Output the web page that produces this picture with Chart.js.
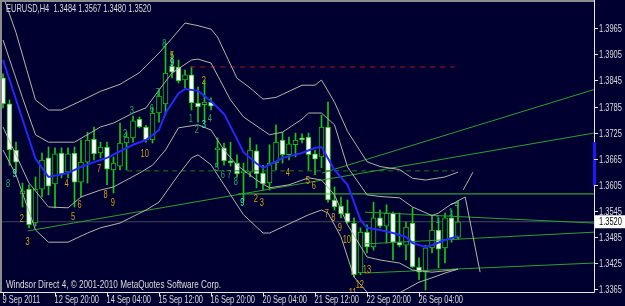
<!DOCTYPE html>
<html>
<head>
<meta charset="utf-8">
<script src="https://cdn.jsdelivr.net/npm/chart.js@4.4.0/dist/chart.umd.min.js"></script>
<style>
  html, body { margin: 0; padding: 0; background: #000030; }
  #wrap { width: 625px; height: 306px; }
</style>
</head>
<body>
<div id="wrap"><canvas id="chart"></canvas></div>
<script>
// EURUSD H4 bars (index 0 = 9 Sep 2011 12:00)
const opens = [1.3851,1.3791,1.3685,1.3584,1.3595,1.3517,1.3595,1.3667,1.3607,1.3678,
  1.3634,1.3678,1.3611,1.3657,1.3710,1.3678,1.3692,1.3639,1.3648,1.3701,
  1.3713,1.3756,1.3738,1.3708,1.3770,1.3791,1.3878,1.3876,1.3846,1.3858,
  1.3793,1.3789,1.3795,1.3685,1.3690,1.3660,1.3655,1.3632,1.3634,1.3683,
  1.3632,1.3609,1.3655,1.3708,1.3674,1.3697,1.3713,1.3715,1.3676,1.3669,
  1.3738,1.3570,1.3556,1.3540,1.3517,1.3402,1.3496,1.3462,1.3529,1.3510,
  1.3540,1.3473,1.3466,1.3517,1.3416,1.3404,1.3460,1.3501,1.3460,1.3529,
  1.3484];
const highs = [1.3860,1.3800,1.3703,1.3609,1.3605,1.3623,1.3678,1.3692,1.3690,1.3690,
  1.3690,1.3692,1.3708,1.3726,1.3738,1.3703,1.3703,1.3669,1.3747,1.3726,
  1.3763,1.3761,1.3742,1.3784,1.3823,1.3931,1.3910,1.3892,1.3869,1.3876,
  1.3830,1.3846,1.3805,1.3713,1.3701,1.3703,1.3674,1.3655,1.3713,1.3697,
  1.3650,1.3697,1.3743,1.3726,1.3715,1.3724,1.3722,1.3724,1.3685,1.3765,
  1.3795,1.3600,1.3577,1.3570,1.3529,1.3506,1.3513,1.3565,1.3547,1.3559,
  1.3542,1.3540,1.3519,1.3552,1.3437,1.3466,1.3536,1.3529,1.3540,1.3547,
  1.3567];
const lows = [1.3782,1.3650,1.3634,1.3554,1.3506,1.3510,1.3577,1.3582,1.3552,1.3621,
  1.3621,1.3554,1.3577,1.3609,1.3662,1.3667,1.3605,1.3586,1.3639,1.3639,
  1.3703,1.3736,1.3703,1.3701,1.3749,1.3765,1.3851,1.3839,1.3828,1.3777,
  1.3749,1.3749,1.3777,1.3646,1.3650,1.3648,1.3623,1.3568,1.3623,1.3598,
  1.3593,1.3593,1.3639,1.3655,1.3662,1.3669,1.3701,1.3639,1.3628,1.3644,
  1.3565,1.3547,1.3529,1.3517,1.3393,1.3398,1.3448,1.3455,1.3506,1.3471,
  1.3432,1.3462,1.3432,1.3414,1.3386,1.3363,1.3448,1.3414,1.3425,1.3473,
  1.3480];
const closes = [1.3791,1.3685,1.3657,1.3591,1.3513,1.3595,1.3662,1.3602,1.3676,1.3630,
  1.3676,1.3611,1.3657,1.3708,1.3676,1.3692,1.3641,1.3655,1.3701,1.3715,
  1.3752,1.3738,1.3708,1.3770,1.3809,1.3862,1.3864,1.3844,1.3858,1.3793,
  1.3784,1.3795,1.3786,1.3690,1.3660,1.3655,1.3630,1.3637,1.3685,1.3630,
  1.3607,1.3655,1.3703,1.3674,1.3699,1.3708,1.3708,1.3674,1.3664,1.3738,
  1.3570,1.3554,1.3538,1.3519,1.3398,1.3496,1.3462,1.3529,1.3510,1.3540,
  1.3473,1.3466,1.3508,1.3416,1.3404,1.3460,1.3501,1.3457,1.3529,1.3480,
  1.3520];

// envelope bands and moving average, read at bar positions
const upperOuterBars = [0,2,5,7,9,12,15,18,21,24,26,28,30,32,33,36,38,40,42,46,48,49,51,53,56,58,61,63,65,68,70];
const upperOuterVals = [1.4040,1.3955,1.3800,1.3777,1.3777,1.3798,1.3820,1.3836,1.3863,1.3908,1.3942,1.3977,1.3971,1.3963,1.3945,1.3850,1.3828,1.3802,1.3806,1.3834,1.3834,1.3846,1.3795,1.3728,1.3658,1.3647,1.3640,1.3620,1.3616,1.3623,1.3634];
const upperInnerBars = [0,3,5,7,11,15,17,20,22,24,26,29,30,32,35,37,41,43,46,47,49,51,53,56,58,61,63,66,67,69,70];
const upperInnerVals = [1.3938,1.3805,1.3720,1.3703,1.3703,1.3738,1.3747,1.3770,1.3782,1.3823,1.3862,1.3892,1.3894,1.3885,1.3800,1.3761,1.3720,1.3726,1.3756,1.3770,1.3770,1.3743,1.3646,1.3582,1.3578,1.3575,1.3554,1.3534,1.3540,1.3561,1.3565];
const maBars = [0,5,7,10,12,14,16,20,22,24,25,27,28,30,32,34,36,37,39,40,41,43,46,48,49,51,53,54,55,56,58,60,62,63,65,66,68,70];
const maVals = [1.3892,1.3665,1.3623,1.3632,1.3646,1.3657,1.3667,1.3697,1.3708,1.3731,1.3770,1.3815,1.3825,1.3821,1.3797,1.3768,1.3710,1.3680,1.3654,1.3644,1.3651,1.3667,1.3678,1.3690,1.3692,1.3639,1.3605,1.3565,1.3524,1.3506,1.3501,1.3494,1.3485,1.3471,1.3462,1.3466,1.3478,1.3487];
const lowerInnerBars = [0,4,7,10,12,15,17,21,23,25,27,30,32,34,36,39,41,44,47,49,51,53,56,58,61,63,66,68,70];
const lowerInnerVals = [1.3738,1.3609,1.3554,1.3552,1.3577,1.3593,1.3600,1.3632,1.3650,1.3685,1.3736,1.3743,1.3731,1.3685,1.3650,1.3616,1.3598,1.3605,1.3621,1.3616,1.3582,1.3513,1.3439,1.3432,1.3425,1.3409,1.3404,1.3407,1.3411];
const lowerOuterBars = [0,2,5,7,10,13,15,18,22,24,27,29,30,32,35,37,40,41,43,46,47,49,50,52,54,56,59,64,66,68,70];
const lowerOuterVals = [1.3685,1.3628,1.3501,1.3473,1.3473,1.3494,1.3506,1.3517,1.3547,1.3565,1.3628,1.3667,1.3674,1.3651,1.3582,1.3536,1.3494,1.3494,1.3508,1.3529,1.3536,1.3547,1.3540,1.3485,1.3393,1.3358,1.3340,1.3381,1.3391,1.3402,1.3411];

// projection strokes to the right of the last bar
const projABars = [68.9, 71.1, 73.4];
const projAVals = [1.3559, 1.3577, 1.3404];
const projBBars = [70.8, 72.3];
const projBVals = [1.3593, 1.3634];

// drawn objects: [startBar, startPrice, endBar, endPrice]
const trendA = [49.1, 1.3632, 90.92, 1.3824];
const trendB = [3.85, 1.3499, 90.92, 1.3724];
const triTop = [55.7, 1.3542, 90.92, 1.3517];
const triMid = [55.7, 1.3469, 90.92, 1.3496];
const triLow = [55.7, 1.3402, 90.92, 1.3425];
const levelGreen = [36.2, 1.3584, 90.92, 1.3584];
const levelRed = [28.8, 1.3876, 69.5, 1.3876];
const levelDkGreen = [19.1, 1.3637, 69.5, 1.3637];
const bidPrice = 1.3520;
const axisMark = [1.3602, 1.3703];

// wave count labels
const labelTexts  = ['2','3','4','5','6','7','8','9','10','5','2','2','3','4','5','6','7','8','9','10','11','12','13',
  '8','2','3','6','7','8','1','2','4','5','6','7','8','1','1','4',
  '9','9','3','9'];
const labelBars   = [2.9,3.8,9.8,10.8,11.8,14.8,15.8,16.9,21.8,26,30.9,38.9,39.8,43.8,46.9,47.8,49.8,50.8,51.8,52.9,53.8,54.9,56,
  0.8,18.8,19.8,22.9,23.8,24.8,28.9,29.8,31.8,32.9,33.8,34.8,35.8,66.9,68.9,69.8,
  1.8,26,30.9,36.8];
const labelPrices = [1.3526,1.3473,1.3607,1.3531,1.3558,1.3641,1.3582,1.3563,1.3676,1.3901,1.3844,1.3572,1.3563,1.3632,1.3614,1.3602,1.3538,1.3529,1.3506,1.3478,1.3356,1.3375,1.3409,
  1.3607,1.3722,1.3775,1.3779,1.3816,1.3929,1.3756,1.3731,1.3756,1.3644,1.3628,1.3628,1.3611,1.3524,1.3540,1.3559,
  1.3630,1.3885,1.3743,1.3563];
const labelKinds  = ['o','o','o','o','o','o','o','o','o','o','o','o','o','o','o','o','o','o','o','o','o','o','o',
  'g','g','g','g','g','g','g','g','g','g','g','g','g','g','g','g',
  'c','c','c','c'];

// axis ticks
const yTicks = [1.3365,1.3425,1.3485,1.3545,1.3605,1.3665,1.3725,1.3785,1.3845,1.3905,1.3965];
const xTickBars = [0,8,16,24,32,40,48,56,64];
const xTickLabels = ['9 Sep 2011','12 Sep 20:00','14 Sep 04:00','15 Sep 12:00','16 Sep 20:00','20 Sep 04:00','21 Sep 12:00','22 Sep 20:00','26 Sep 04:00'];

const BG = '#000030';
const CANDLE = '#14c814';
const BAND = '#b4b4a4';
const TEXT = '#dcdcdc';
const SQUEEZE = 0.68;
const FONT = '"Liberation Sans", Arial, sans-serif';

const pts = (bars, vals) => bars.map((b, i) => ({x: b, y: vals[i]}));
const seg = s => [{x: s[0], y: s[1]}, {x: s[2], y: s[3]}];
const lineSet = (data, color, extra) => Object.assign({
  type: 'line', data, borderColor: color, borderWidth: 1, pointRadius: 0,
  tension: 0, fill: false
}, extra || {});

const idx = opens.map((_, i) => i);

function txt(c, s, x, y, size, color, align, base, squeeze) {
  c.font = size + 'px ' + FONT;
  c.fillStyle = color;
  c.textAlign = align || 'left';
  c.textBaseline = base || 'alphabetic';
  c.fillText(s, x, y, c.measureText(s).width * (squeeze || SQUEEZE));
}

const mtPlugin = {
  id: 'mt',
  beforeDraw(chart) {
    const c = chart.ctx;
    c.save();
    c.fillStyle = BG;
    c.fillRect(0, 0, chart.width, chart.height);
    c.restore();
  },
  afterDatasetsDraw(chart) {
    const c = chart.ctx, xs = chart.scales.x, ys = chart.scales.y, a = chart.chartArea;
    const col = {o: '#d4a00c', g: '#1eb464', c: '#46ffb4'};
    c.save();
    c.beginPath();
    c.rect(a.left, a.top, a.right - a.left, a.bottom - a.top);
    c.clip();
    labelTexts.forEach((t, i) => {
      txt(c, t, xs.getPixelForValue(labelBars[i]), ys.getPixelForValue(labelPrices[i]),
        11, col[labelKinds[i]], 'center', 'middle');
    });
    c.restore();
  },
  afterDraw(chart) {
    const c = chart.ctx, xs = chart.scales.x, ys = chart.scales.y, a = chart.chartArea;
    c.save();
    // frame
    c.strokeStyle = '#8c8c8c';
    c.lineWidth = 2;
    c.beginPath();
    c.moveTo(0, 1); c.lineTo(a.right, 1);
    c.moveTo(1, 0); c.lineTo(1, a.bottom);
    c.stroke();
    c.strokeStyle = '#e6e6e6';
    c.lineWidth = 1;
    c.beginPath();
    c.moveTo(a.right + 0.5, 0); c.lineTo(a.right + 0.5, a.bottom + 0.5);
    c.moveTo(0, a.bottom + 0.5); c.lineTo(a.right + 0.5, a.bottom + 0.5);
    c.stroke();
    // axis marker
    const m0 = ys.getPixelForValue(axisMark[1]), m1 = ys.getPixelForValue(axisMark[0]);
    c.fillStyle = '#1a1aff';
    c.fillRect(a.right - 1, m0, 3, m1 - m0);
    // y ticks
    yTicks.forEach(v => {
      const y = Math.round(ys.getPixelForValue(v)) + 0.5;
      c.strokeStyle = '#e6e6e6';
      c.beginPath(); c.moveTo(a.right, y); c.lineTo(a.right + 4, y); c.stroke();
      txt(c, v.toFixed(4), a.right + 5, y, 11, TEXT, 'left', 'middle');
    });
    // x ticks
    xTickBars.forEach((b, i) => {
      const x = Math.round(xs.getPixelForValue(b)) + 0.5;
      c.strokeStyle = '#e6e6e6';
      c.beginPath(); c.moveTo(x, a.bottom); c.lineTo(x, a.bottom + 4); c.stroke();
      txt(c, xTickLabels[i], x - 1, 303, 11, TEXT, 'left');
    });
    // current price box
    const py = ys.getPixelForValue(bidPrice);
    c.fillStyle = '#ffffff';
    c.fillRect(a.right + 1, py - 6.5, 30, 13);
    txt(c, bidPrice.toFixed(4), a.right + 5, py + 0.5, 11, '#000000', 'left', 'middle');
    // captions
    txt(c, 'EURUSD,H4  ' + [opens[70], highs[70], lows[70], closes[70]].map(v => v.toFixed(4)).join(' '),
      6, 12, 11, TEXT);
    txt(c, 'Windsor Direct 4, \u00a9 2001-2010 MetaQuotes Software Corp.', 6, 288, 11, TEXT, 'left', 'alphabetic', 0.74);
    c.restore();
  }
};

new Chart(document.getElementById('chart'), {
  type: 'bar',
  data: {
    datasets: [
      lineSet(pts(maBars, maVals), '#2626ff', {borderWidth: 2, order: 0}),
      lineSet(pts(upperOuterBars, upperOuterVals), BAND, {order: 1}),
      lineSet(pts(upperInnerBars, upperInnerVals), BAND, {order: 1}),
      lineSet(pts(lowerInnerBars, lowerInnerVals), BAND, {order: 1}),
      lineSet(pts(lowerOuterBars, lowerOuterVals), BAND, {order: 1}),
      lineSet(pts(projABars, projAVals), BAND, {order: 1}),
      lineSet(pts(projBBars, projBVals), BAND, {order: 1}),
      lineSet(seg(trendA), '#2f9f2f', {order: 2}),
      lineSet(seg(trendB), '#2f9f2f', {order: 2}),
      lineSet(seg(triTop), '#2f9f2f', {order: 2}),
      lineSet(seg(triMid), '#2f9f2f', {order: 2}),
      lineSet(seg(triLow), '#2f9f2f', {order: 2}),
      lineSet(seg(levelGreen), '#3cc83c', {order: 2}),
      lineSet(seg(levelRed), '#b41414', {borderDash: [5, 5], order: 2}),
      lineSet(seg(levelDkGreen), '#1c7a1c', {borderDash: [5, 4], order: 2}),
      lineSet([{x: -1, y: bidPrice}, {x: 92, y: bidPrice}], '#8c8c8c', {borderDash: [1, 1], order: 6}),
      {
        type: 'bar', order: 3, grouped: false, barThickness: 5,
        data: idx.map(i => ({x: i, y: [opens[i], closes[i]]})),
        backgroundColor: ctx => closes[ctx.dataIndex] >= opens[ctx.dataIndex] ? BG : '#ffffff',
        borderColor: CANDLE, borderWidth: 1, borderSkipped: false
      },
      {
        type: 'bar', order: 4, grouped: false, barThickness: 1,
        data: idx.map(i => ({x: i, y: [lows[i], highs[i]]})),
        backgroundColor: CANDLE, borderWidth: 0
      }
    ]
  },
  options: {
    responsive: true,
    maintainAspectRatio: false,
    animation: false,
    devicePixelRatio: 1,
    layout: {padding: {left: 2, top: 2, right: 31, bottom: 14}},
    plugins: {legend: {display: false}, tooltip: {enabled: false}},
    scales: {
      x: {type: 'linear', min: -0.154, max: 90.92, offset: false, display: false},
      y: {type: 'linear', min: 1.33584, max: 1.40254, display: false}
    }
  },
  plugins: [mtPlugin]
});
</script>
</body>
</html>
